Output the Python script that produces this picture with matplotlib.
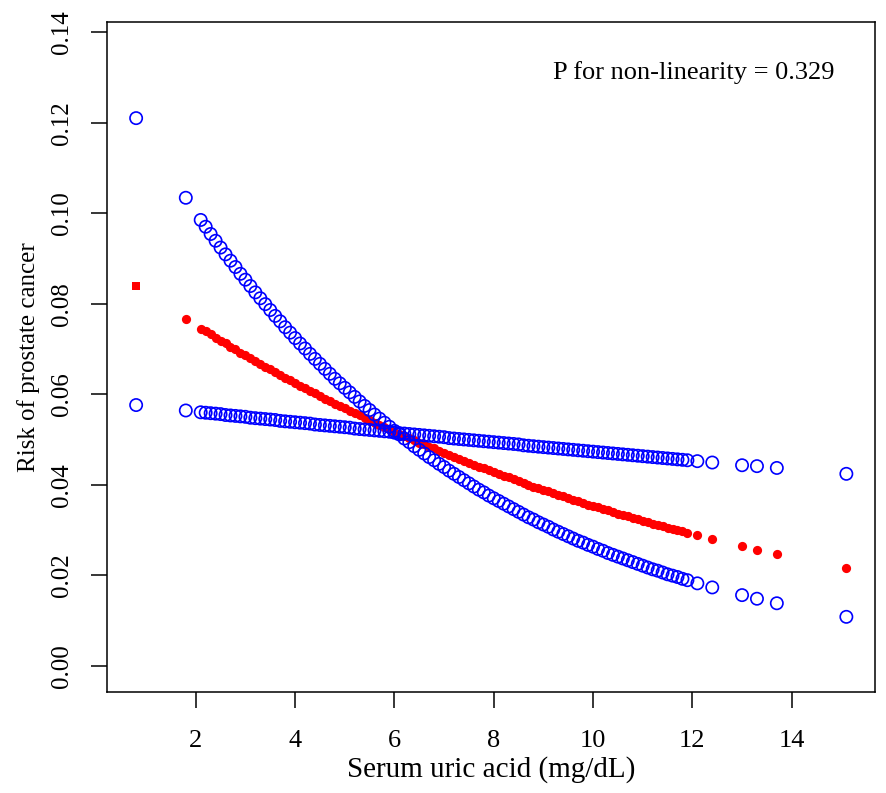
import numpy as np
import matplotlib
matplotlib.use("Agg")
import matplotlib.pyplot as plt

# serum uric acid values (mg/dL) at which the predictions are plotted
uric_acid = [
    0.8, 1.8,
    2.1, 2.2, 2.3, 2.4, 2.5, 2.6, 2.7, 2.8, 2.9, 3.0,
    3.1, 3.2, 3.3, 3.4, 3.5, 3.6, 3.7, 3.8, 3.9, 4.0,
    4.1, 4.2, 4.3, 4.4, 4.5, 4.6, 4.7, 4.8, 4.9, 5.0,
    5.1, 5.2, 5.3, 5.4, 5.5, 5.6, 5.7, 5.8, 5.9, 6.0,
    6.1, 6.2, 6.3, 6.4, 6.5, 6.6, 6.7, 6.8, 6.9, 7.0,
    7.1, 7.2, 7.3, 7.4, 7.5, 7.6, 7.7, 7.8, 7.9, 8.0,
    8.1, 8.2, 8.3, 8.4, 8.5, 8.6, 8.7, 8.8, 8.9, 9.0,
    9.1, 9.2, 9.3, 9.4, 9.5, 9.6, 9.7, 9.8, 9.9, 10.0,
    10.1, 10.2, 10.3, 10.4, 10.5, 10.6, 10.7, 10.8, 10.9, 11.0,
    11.1, 11.2, 11.3, 11.4, 11.5, 11.6, 11.7, 11.8, 11.9,
    12.1, 12.4, 13.0, 13.3, 13.7, 15.1,
]

# predicted risk (red)
risk = [
    0.0840, 0.0766,
    0.0745, 0.0739, 0.0732, 0.0725, 0.0718, 0.0712, 0.0705, 0.0699, 0.0692, 0.0686,
    0.0679, 0.0673, 0.0667, 0.0661, 0.0655, 0.0648, 0.0642, 0.0636, 0.0631, 0.0625,
    0.0619, 0.0613, 0.0607, 0.0602, 0.0596, 0.0590, 0.0585, 0.0579, 0.0574, 0.0569,
    0.0563, 0.0558, 0.0553, 0.0548, 0.0542, 0.0537, 0.0532, 0.0527, 0.0522, 0.0517,
    0.0512, 0.0508, 0.0503, 0.0498, 0.0493, 0.0489, 0.0484, 0.0480, 0.0475, 0.0470,
    0.0466, 0.0462, 0.0457, 0.0453, 0.0449, 0.0444, 0.0440, 0.0436, 0.0432, 0.0428,
    0.0424, 0.0420, 0.0416, 0.0412, 0.0408, 0.0404, 0.0400, 0.0396, 0.0392, 0.0389,
    0.0385, 0.0381, 0.0378, 0.0374, 0.0370, 0.0367, 0.0363, 0.0360, 0.0356, 0.0353,
    0.0350, 0.0346, 0.0343, 0.0340, 0.0336, 0.0333, 0.0330, 0.0327, 0.0324, 0.0320,
    0.0317, 0.0314, 0.0311, 0.0308, 0.0305, 0.0302, 0.0299, 0.0297, 0.0294,
    0.0288, 0.0280, 0.0264, 0.0256, 0.0247, 0.0215,
]

# confidence band, steep side (blue circles, upper at low uric acid)
band_steep = [
    0.1210, 0.1034,
    0.0985, 0.0970, 0.0954, 0.0939, 0.0924, 0.0909, 0.0895, 0.0881, 0.0866, 0.0853,
    0.0839, 0.0825, 0.0812, 0.0799, 0.0786, 0.0773, 0.0761, 0.0748, 0.0736, 0.0724,
    0.0712, 0.0701, 0.0689, 0.0678, 0.0667, 0.0656, 0.0645, 0.0634, 0.0624, 0.0614,
    0.0604, 0.0594, 0.0584, 0.0574, 0.0565, 0.0555, 0.0546, 0.0537, 0.0528, 0.0519,
    0.0511, 0.0502, 0.0494, 0.0485, 0.0477, 0.0469, 0.0461, 0.0454, 0.0446, 0.0439,
    0.0431, 0.0424, 0.0417, 0.0410, 0.0403, 0.0396, 0.0389, 0.0383, 0.0376, 0.0370,
    0.0364, 0.0358, 0.0352, 0.0346, 0.0340, 0.0334, 0.0328, 0.0323, 0.0317, 0.0312,
    0.0307, 0.0301, 0.0296, 0.0291, 0.0286, 0.0281, 0.0276, 0.0272, 0.0267, 0.0263,
    0.0258, 0.0254, 0.0249, 0.0245, 0.0241, 0.0237, 0.0233, 0.0229, 0.0225, 0.0221,
    0.0217, 0.0213, 0.0210, 0.0206, 0.0202, 0.0199, 0.0196, 0.0192, 0.0189,
    0.0182, 0.0173, 0.0156, 0.0148, 0.0138, 0.0108,
]

# confidence band, flat side (blue circles, lower at low uric acid)
band_flat = [
    0.0576, 0.0564,
    0.0560, 0.0559, 0.0558, 0.0557, 0.0556, 0.0554, 0.0553, 0.0552, 0.0551, 0.0550,
    0.0548, 0.0547, 0.0546, 0.0545, 0.0544, 0.0543, 0.0541, 0.0540, 0.0539, 0.0538,
    0.0537, 0.0536, 0.0535, 0.0533, 0.0532, 0.0531, 0.0530, 0.0529, 0.0528, 0.0527,
    0.0526, 0.0524, 0.0523, 0.0522, 0.0521, 0.0520, 0.0519, 0.0518, 0.0517, 0.0515,
    0.0514, 0.0513, 0.0512, 0.0511, 0.0510, 0.0509, 0.0508, 0.0507, 0.0506, 0.0505,
    0.0503, 0.0502, 0.0501, 0.0500, 0.0499, 0.0498, 0.0497, 0.0496, 0.0495, 0.0494,
    0.0493, 0.0492, 0.0491, 0.0490, 0.0489, 0.0487, 0.0486, 0.0485, 0.0484, 0.0483,
    0.0482, 0.0481, 0.0480, 0.0479, 0.0478, 0.0477, 0.0476, 0.0475, 0.0474, 0.0473,
    0.0472, 0.0471, 0.0470, 0.0469, 0.0468, 0.0467, 0.0466, 0.0465, 0.0464, 0.0463,
    0.0462, 0.0461, 0.0460, 0.0459, 0.0458, 0.0457, 0.0456, 0.0455, 0.0454,
    0.0452, 0.0449, 0.0443, 0.0441, 0.0437, 0.0424,
]

y_ticks = [0.00, 0.02, 0.04, 0.06, 0.08, 0.10, 0.12, 0.14]
x_ticks = [2, 4, 6, 8, 10, 12, 14]

plt.rcParams["font.family"] = ["Liberation Serif", "DejaVu Serif"]
fig = plt.figure(figsize=(8.86, 7.93), dpi=100)
ax = fig.add_axes([0.1208, 0.1277, 0.8668, 0.8446])

# first red mark is drawn as a small square in the original
ax.scatter(uric_acid[:1], risk[:1], marker="s", s=32, color="#ff0000", lw=0)
ax.scatter(uric_acid[1:], risk[1:], marker="o", s=44, color="#ff0000", lw=0)
for band in (band_steep, band_flat):
    ax.scatter(uric_acid, band, marker="o", s=78, facecolors="none",
               edgecolors="#0000ff", lw=1.2)

ax.set_xlim(0.214, 15.677)
ax.set_ylim(-0.00575, 0.14225)
ax.set_xticks(x_ticks)
ax.set_yticks(y_ticks)
ax.set_yticklabels([f"{v:.2f}" for v in y_ticks], rotation=90, va="center")
ax.tick_params(length=11.5, width=1.1, labelsize=18, pad=13)
ax.tick_params(axis="x", labelsize=19, pad=16)
for sp in ax.spines.values():
    sp.set_linewidth(1.1)

ax.set_xlabel("Serum uric acid (mg/dL)", fontsize=21, labelpad=3)
ax.set_ylabel("Risk of prostate cancer", fontsize=18, labelpad=8)
ax.text(0.764, 0.925, "P for non-linearity = 0.329", fontsize=19,
        ha="center", va="center", transform=ax.transAxes)

fig.savefig("out.png", dpi=100)
